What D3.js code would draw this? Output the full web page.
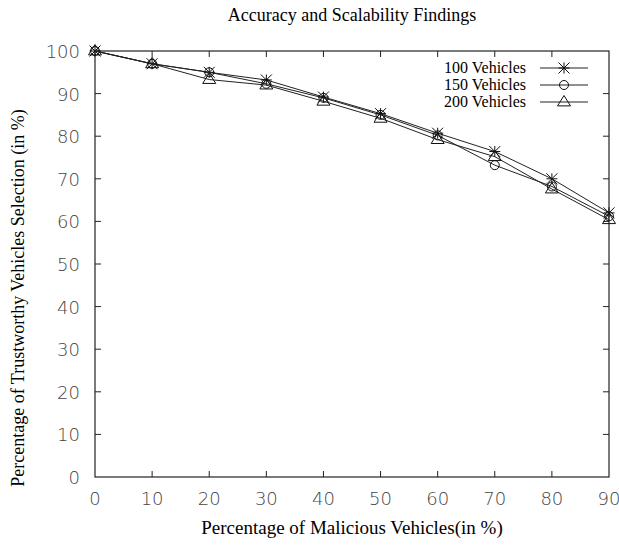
<!DOCTYPE html>
<html>
<head>
<meta charset="utf-8">
<script src="https://cdn.jsdelivr.net/npm/d3@7"></script>
<style>
  body { margin: 0; background: #fff; }
  svg { display: block; }
</style>
</head>
<body>
<svg width="619" height="546"></svg>
<script>
const malicious = [0, 10, 20, 30, 40, 50, 60, 70, 80, 90];
const v100 = [100, 97, 95, 93.2, 89.2, 85.3, 80.7, 76.4, 70, 62];
const v150 = [100, 97, 95, 92.3, 89, 85, 80.2, 73.2, 68.2, 61.2];
const v200 = [100, 97, 93.3, 92, 88.2, 84.2, 79.2, 75.2, 67.6, 60.4];
const seriesNames = ["100 Vehicles", "150 Vehicles", "200 Vehicles"];
const yTicks = [0, 10, 20, 30, 40, 50, 60, 70, 80, 90, 100];

const series = [
  { name: seriesNames[0], values: v100, marker: "star" },
  { name: seriesNames[1], values: v150, marker: "circle" },
  { name: seriesNames[2], values: v200, marker: "triangle" }
];

const margin = { top: 51, right: 10, bottom: 69, left: 95 };
const width = 619, height = 546;
const svg = d3.select("svg");

const x = d3.scaleLinear().domain([0, 90]).range([margin.left, width - margin.right]);
const y = d3.scaleLinear().domain([0, 100]).range([height - margin.bottom, margin.top]);

const serif = "'Liberation Serif', 'DejaVu Serif', 'Times New Roman', serif";
const sans = "'DejaVu Sans', sans-serif";

// title
svg.append("text")
  .attr("x", 352).attr("y", 21)
  .attr("text-anchor", "middle")
  .style("font-family", serif).style("font-size", "18px")
  .text("Accuracy and Scalability Findings");

// frame
svg.append("rect")
  .attr("x", x(0)).attr("y", y(100))
  .attr("width", x(90) - x(0)).attr("height", y(0) - y(100))
  .attr("fill", "none").attr("stroke", "#222").attr("stroke-width", 1.2);

// ticks, inward on all four sides
const tk = 6;
const tickG = svg.append("g").attr("stroke", "#222").attr("stroke-width", 1);
malicious.slice(1, -1).forEach(v => {
  tickG.append("line").attr("x1", x(v)).attr("x2", x(v)).attr("y1", y(0)).attr("y2", y(0) - tk);
  tickG.append("line").attr("x1", x(v)).attr("x2", x(v)).attr("y1", y(100)).attr("y2", y(100) + tk);
});
yTicks.slice(1, -1).forEach(v => {
  tickG.append("line").attr("x1", x(0)).attr("x2", x(0) + tk).attr("y1", y(v)).attr("y2", y(v));
  tickG.append("line").attr("x1", x(90)).attr("x2", x(90) - tk).attr("y1", y(v)).attr("y2", y(v));
});

// tick labels
svg.append("g").selectAll("text").data(malicious).join("text")
  .attr("x", d => x(d)).attr("y", y(0) + 28)
  .attr("text-anchor", "middle")
  .style("font-family", sans).style("font-size", "18px").style("font-weight", "300")
  .attr("fill", "#444")
  .text(d => d);
svg.append("g").selectAll("text").data(yTicks).join("text")
  .attr("x", x(0) - 15).attr("y", d => y(d) + 7)
  .attr("text-anchor", "end")
  .style("font-family", sans).style("font-size", "18px").style("font-weight", "300")
  .attr("fill", "#444")
  .text(d => d);

// axis titles
svg.append("text")
  .attr("x", 352).attr("y", 534)
  .attr("text-anchor", "middle")
  .style("font-family", serif).style("font-size", "19px")
  .text("Percentage of Malicious Vehicles(in %)");
svg.append("text")
  .attr("transform", "translate(24,298) rotate(-90)")
  .attr("text-anchor", "middle")
  .style("font-family", serif).style("font-size", "18px")
  .text("Percentage of Trustworthy Vehicles Selection (in %)");

// markers
function drawMarker(g, type, cx, cy) {
  if (type === "star") {
    const r = 5.5;
    g.append("path")
      .attr("d", `M${cx - r},${cy}H${cx + r}M${cx},${cy - r}V${cy + r}` +
        `M${cx - r},${cy - r}L${cx + r},${cy + r}M${cx - r},${cy + r}L${cx + r},${cy - r}`)
      .attr("stroke", "#111").attr("stroke-width", 1).attr("fill", "none");
  } else if (type === "circle") {
    g.append("circle").attr("cx", cx).attr("cy", cy).attr("r", 4.5)
      .attr("stroke", "#111").attr("stroke-width", 1).attr("fill", "none");
  } else {
    const s = 6.5;
    g.append("path")
      .attr("d", `M${cx},${cy - s}L${cx + s},${cy + s * 0.6}L${cx - s},${cy + s * 0.6}Z`)
      .attr("stroke", "#111").attr("stroke-width", 1).attr("fill", "none");
  }
}

const line = d3.line().x((d, i) => x(malicious[i])).y(d => y(d));
series.forEach(s => {
  const g = svg.append("g");
  g.append("path").attr("d", line(s.values))
    .attr("fill", "none").attr("stroke", "#222").attr("stroke-width", 1);
  s.values.forEach((v, i) => drawMarker(g, s.marker, x(malicious[i]), y(v)));
});

// legend
series.forEach((s, i) => {
  const ly = 68 + i * 17;
  const g = svg.append("g");
  g.append("text")
    .attr("x", 526).attr("y", ly + 5)
    .attr("text-anchor", "end")
    .style("font-family", serif).style("font-size", "16px")
    .text(s.name);
  g.append("line").attr("x1", 540).attr("x2", 588).attr("y1", ly).attr("y2", ly)
    .attr("stroke", "#222").attr("stroke-width", 1);
  drawMarker(g, s.marker, 564, ly);
});
</script>
</body>
</html>
